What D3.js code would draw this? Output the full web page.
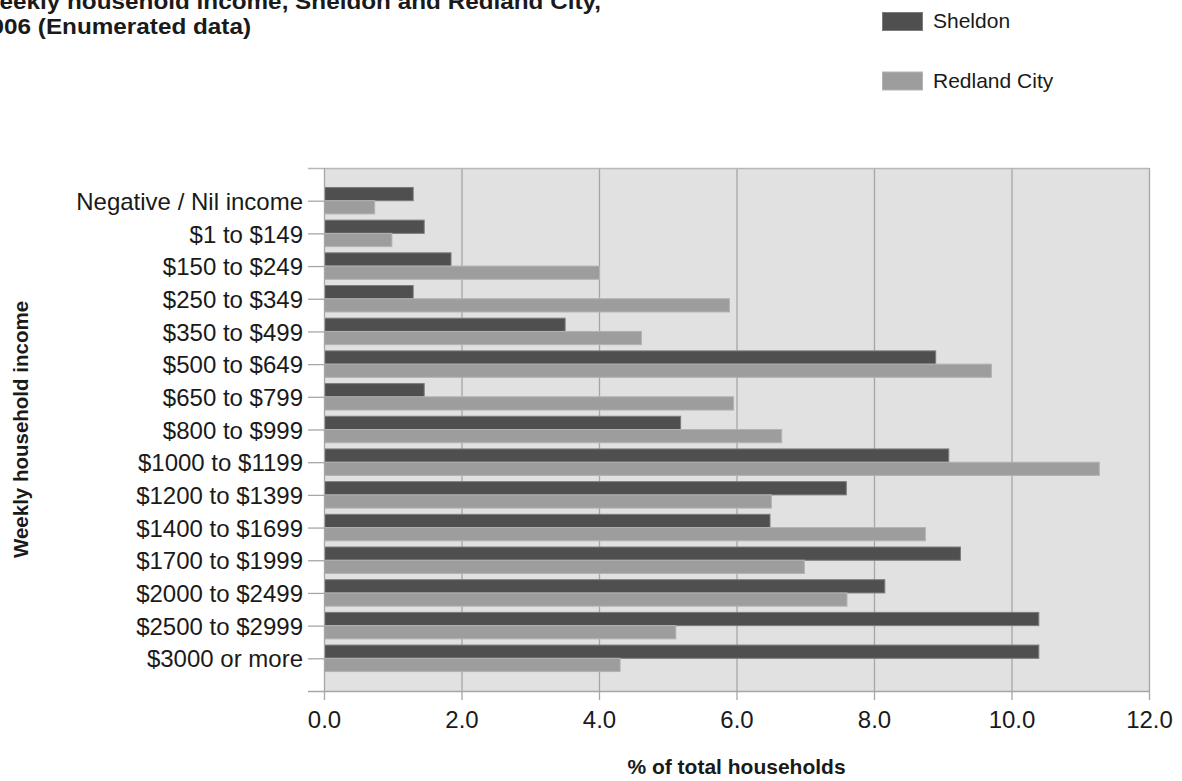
<!DOCTYPE html>
<html>
<head>
<meta charset="utf-8">
<script src="https://cdn.jsdelivr.net/npm/d3@7"></script>
<style>
  html, body { margin: 0; padding: 0; background: #ffffff; }
  svg { display: block; }
  text { font-family: "Liberation Sans", Arial, sans-serif; fill: #1a1a1a; }
</style>
</head>
<body>
<svg id="chart" width="1182" height="781"></svg>
<script>
// ---- Data ----
const categories = [
  "Negative / Nil income", "$1 to $149", "$150 to $249", "$250 to $349",
  "$350 to $499", "$500 to $649", "$650 to $799", "$800 to $999",
  "$1000 to $1199", "$1200 to $1399", "$1400 to $1699", "$1700 to $1999",
  "$2000 to $2499", "$2500 to $2999", "$3000 or more"
];
const seriesNames = ["Sheldon", "Redland City"];
const sheldon = [1.29, 1.45, 1.84, 1.29, 3.50, 8.89, 1.45, 5.18, 9.08, 7.59, 6.48, 9.25, 8.15, 10.39, 10.39];
const redland = [0.73, 0.98, 4.00, 5.89, 4.61, 9.70, 5.95, 6.65, 11.27, 6.50, 8.74, 6.98, 7.60, 5.11, 4.30];
const xTicks = [0, 2, 4, 6, 8, 10, 12];
const titleLines = ["Weekly household income, Sheldon and Redland City,", "2006 (Enumerated data)"];
const xTitle = "% of total households";
const yTitle = "Weekly household income";

// ---- Layout ----
(function () {
const svg = d3.select("#chart");
const pL = 324, pR = 1149, pT = 168, pB = 691;
const fills = ["#4f4f4f", "#9d9d9d"];
const strokes = ["#7c7c7c", "#b3b3b3"];
const gridColor = "#a6a6a6";

const x = d3.scaleLinear().domain([0, 12]).range([pL, pR]);
const y = d3.scalePoint().domain(categories).range([pT, pB]).padding(1);
const barH = y.step() * 0.405;

// plot background
svg.append("rect")
  .attr("x", pL).attr("y", pT)
  .attr("width", pR - pL).attr("height", pB - pT)
  .attr("fill", "#e1e1e1");

// vertical gridlines
svg.append("g").selectAll("line")
  .data(xTicks.slice(1))
  .join("line")
  .attr("x1", d => x(d) + 0.5).attr("x2", d => x(d) + 0.5)
  .attr("y1", pT).attr("y2", pB)
  .attr("stroke", gridColor).attr("stroke-width", 1.3);

// top border line (extends left like the axis ends)
svg.append("line")
  .attr("x1", pL - 16).attr("x2", pR)
  .attr("y1", pT + 0.5).attr("y2", pT + 0.5)
  .attr("stroke", "#b8b8b8").attr("stroke-width", 1.3);

// bars
const rows = categories.map((c, i) => ({ c, vals: [sheldon[i], redland[i]] }));
const gBars = svg.append("g");
rows.forEach(r => {
  r.vals.forEach((v, k) => {
    gBars.append("rect")
      .attr("x", x(0) + 0.5)
      .attr("y", k === 0 ? y(r.c) - barH : y(r.c))
      .attr("width", x(v) - x(0))
      .attr("height", barH)
      .attr("fill", fills[k])
      .attr("stroke", strokes[k])
      .attr("stroke-width", 1);
  });
});

// y axis
const yAxis = d3.axisLeft(y).tickSize(16).tickPadding(5).tickSizeOuter(0);
const gy = svg.append("g").attr("transform", `translate(${pL},0)`).call(yAxis);
gy.select(".domain").attr("stroke", gridColor).attr("stroke-width", 1.3)
  .attr("d", `M0.5,${pT}V${pB}`);
gy.selectAll(".tick line").attr("stroke", gridColor).attr("stroke-width", 1.3);
gy.selectAll(".tick text")
  .attr("font-size", 24).attr("fill", "#1a1a1a")
  .attr("font-family", "'Liberation Sans', Arial, sans-serif")
  .attr("dy", "0.36em");

// x axis
const xAxis = d3.axisBottom(x).tickValues(xTicks).tickFormat(d3.format(".1f"))
  .tickSize(9).tickPadding(11).tickSizeOuter(0);
const gx = svg.append("g").attr("transform", `translate(0,${pB})`).call(xAxis);
gx.select(".domain").attr("stroke", gridColor).attr("stroke-width", 1.3)
  .attr("d", `M${pL - 16},0.5H${pR}`);
gx.selectAll(".tick line").attr("stroke", gridColor).attr("stroke-width", 1.3);
gx.selectAll(".tick text")
  .attr("font-size", 24).attr("fill", "#1a1a1a")
  .attr("font-family", "'Liberation Sans', Arial, sans-serif");

// axis titles
svg.append("text")
  .attr("x", (pL + pR) / 2).attr("y", 774)
  .attr("text-anchor", "middle")
  .attr("font-size", 21).attr("font-weight", "bold")
  .text(xTitle);

svg.append("text")
  .attr("transform", `translate(28,${(pT + pB) / 2}) rotate(-90)`)
  .attr("text-anchor", "middle")
  .attr("font-size", 20.5).attr("font-weight", "bold")
  .text(yTitle);

// chart title (partly cut off at the top-left, as in the reference)
titleLines.forEach((t, i) => {
  svg.append("text")
    .attr("transform", `translate(-23,${9 + i * 25}) scale(1.13,1)`)
    .attr("font-size", 21.5).attr("font-weight", "bold")
    .text(t);
});

// legend
const legend = svg.append("g");
seriesNames.forEach((name, k) => {
  const ly = 12 + k * 59.5;
  legend.append("rect")
    .attr("x", 882.5).attr("y", ly + 0.5)
    .attr("width", 40).attr("height", 18)
    .attr("fill", fills[k]).attr("stroke", strokes[k]).attr("stroke-width", 1);
  legend.append("text")
    .attr("x", 933).attr("y", ly + 16)
    .attr("font-size", 21)
    .text(name);
});
})();
</script>
</body>
</html>
